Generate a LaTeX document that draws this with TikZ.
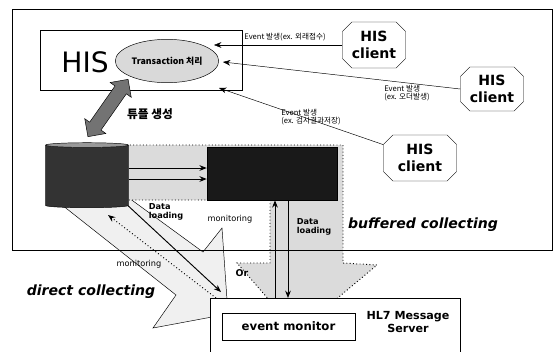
\documentclass[tikz,border=0pt]{standalone}
\usepackage{fontspec}
\setmainfont{DejaVu Sans}
\newfontfamily\kr{Noto Sans CJK KR}
\usepackage{tikz}
\usetikzlibrary{arrows.meta,positioning,shapes.geometric,shapes.misc,shapes.arrows}
\tikzset{
  >={Stealth[length=2.2mm,width=1.7mm]},
  client/.style ={chamfered rectangle,chamfered rectangle xsep=4pt,
                  chamfered rectangle ysep=4pt,draw,fill=white,inner sep=0pt,
                  font=\bfseries\fontsize{12}{14}\selectfont,align=center},
  evlbl/.style  ={font=\kr\fontsize{6.5}{7.5}\selectfont,align=left,inner sep=1pt},
  smlbl/.style  ={font=\fontsize{7}{8}\selectfont,inner sep=1pt},
  boldlbl/.style={font=\bfseries\fontsize{7}{7.5}\selectfont,align=left,inner sep=1pt},
  collect/.style={font=\bfseries\itshape\fontsize{12}{14}\selectfont,inner sep=1pt},
  flow/.style   ={->,draw=black},
  monflow/.style={->,draw=black,dotted,thick},
}

\begin{document}
\begin{tikzpicture}[x=0.03cm,y=-0.03cm]
\useasboundingbox (0,0) rectangle (554,351);
\clip (0,0) rectangle (554,351);
% collecting paths
\path[draw,fill=gray!12] (118,190) -- (203,252) -- (222,228) -- (228,314) -- (153,328)
  -- (176,295) -- (62,205) -- cycle;
\path[draw,dotted,thick,fill=gray!28] (120,145) -- (343,145) -- (343,263) -- (377,265)
  -- (297,332) -- (237,263) -- (270,263) -- (270,200) -- (120,200) -- cycle;
% frame
\draw (12,9) rectangle (552,250);
% HIS side
\node[draw,fill=white,minimum width=6.06cm,minimum height=1.8cm] (his) at (141,60) {};
\node[font=\fontsize{24}{26}\selectfont,inner sep=0pt] (histxt) at (85,62) {HIS};
\node[ellipse,draw,fill=gray!30,minimum width=3cm,minimum height=1.3cm,inner sep=1pt,
      font=\kr\bfseries\fontsize{7.5}{9}\selectfont] (trans) at (167,61) {Transaction 처리};
\node[client,minimum width=1.89cm,minimum height=1.38cm] (c1) at (374,45) {HIS\\client};
\node[client,minimum width=1.89cm,minimum height=1.32cm] (c2) at (492,89) {HIS\\client};
\node[client,minimum width=2.19cm,minimum height=1.38cm] (c3) at (420,158) {HIS\\client};
\coordinate (e1) at (214,45);
\coordinate (e2) at (223,62);
\coordinate (e3) at (219,88);
\draw[flow] (c1.west) -- (e1);
\draw[flow] (c2.west) -- (e2);
\draw[flow] (c3.160) -- (e3);
\node[evlbl,anchor=south west] (ev1) at (243,42) {Event 발생(ex. 외래접수)};
\node[evlbl] (ev2) at (407,93) {Event 발생\\(ex. 오더발생)};
\node[evlbl] (ev3) at (311,117) {Event 발생\\(ex. 검사결과저장)};
% tuple arrow
\node[double arrow,draw,fill=black!55,minimum height=2.1cm,inner sep=0.2cm,
      double arrow head extend=0.18cm,rotate=55] (tuple) at (108,108) {};
\node[font=\kr\bfseries\fontsize{10}{12}\selectfont,inner sep=1pt] (tuplbl) at (150,114) {튜플 생성};
% storage
\node[cylinder,shape border rotate=90,aspect=0.6,draw,cylinder uses custom fill,
      cylinder body fill=black!80,cylinder end fill=black!40,
      minimum width=2.49cm,minimum height=1.95cm] (db) at (87,177) {};
\node[draw,fill=black!90,minimum width=3.9cm,minimum height=1.59cm] (buf) at (272,173.5) {};
\coordinate (r1) at (0,168);
\coordinate (r2) at (0,179);
\draw[flow,thick] (db.east |- r1) -- (buf.west |- r1);
\draw[flow,thick] (db.east |- r2) -- (buf.west |- r2);
% server
\node[draw,fill=white,anchor=north west,minimum width=7.5cm,minimum height=2.4cm] (server) at (210,298) {};
\node[font=\bfseries\fontsize{9.5}{11}\selectfont,align=center,inner sep=0pt] (hl7) at (408,322) {HL7 Message\\Server};
\node[draw,fill=white,minimum width=3.99cm,minimum height=0.81cm,
      font=\bfseries\fontsize{10}{12}\selectfont] (evmon) at (288.5,326.5) {event monitor};
% direct collecting
\coordinate (dlend) at (221,292);
\coordinate (monstart) at (216,298);
\coordinate (monend) at (108,215);
\draw[flow,thick] (db.-35) -- (dlend);
\draw[monflow] (monstart) -- (monend);
\node[boldlbl] (dl1) at (166,212) {Data\\loading};
\node[smlbl] (mon1) at (139,264) {monitoring};
% buffered collecting
\coordinate (mx) at (275,0);
\coordinate (dx) at (288,0);
\draw[flow,thick] (server.north -| mx) -- (buf.south -| mx);
\draw[flow,thick] (buf.south -| dx) -- (server.north -| dx);
\node[smlbl] (mon2) at (230,219) {monitoring};
\node[boldlbl] (dl2) at (314,227) {Data\\loading};
\node[collect] (bufc) at (423,225) {buffered collecting};
\node[collect] (dirc) at (91,292) {direct collecting};
\node[font=\bfseries\fontsize{8}{9}\selectfont,inner sep=1pt] (ortxt) at (242,273) {Or};
\end{tikzpicture}
\end{document}
